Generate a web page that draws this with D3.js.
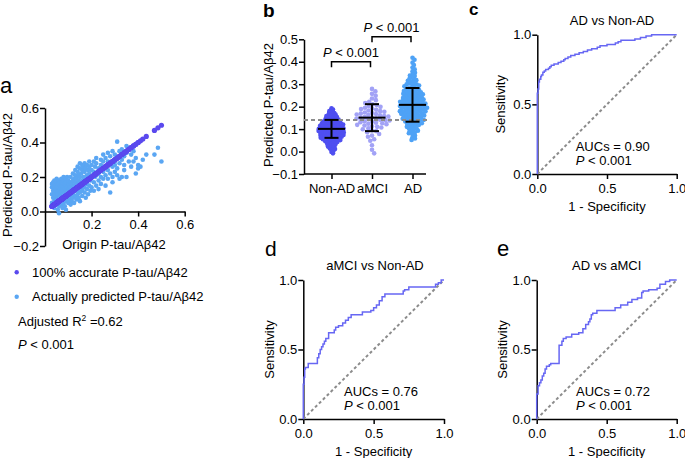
<!DOCTYPE html>
<html><head><meta charset="utf-8">
<script src="https://cdn.jsdelivr.net/npm/d3@7"></script>
<style>
body{margin:0;background:#fff;}
svg{display:block;font-family:"Liberation Sans",Arial,Helvetica,sans-serif;font-size:13px;}
</style></head><body>
<svg id="fig" width="685" height="458"></svg>
<script>
// ---------------- DATA ----------------
// panel a: [origin P-tau/Aβ42, predicted P-tau/Aβ42]
const aPairs = [
[0.03,0.05],[0.03,0.10],[0.03,0.14],[0.03,0.16],[0.035,0.08],[0.035,0.12],[0.035,0.17],[0.035,0.03],
[0.04,0.06],[0.04,0.09],[0.04,0.11],[0.04,0.13],[0.04,0.15],[0.04,0.18],[0.04,0.02],
[0.045,0.07],[0.045,0.10],[0.045,0.14],[0.045,0.16],[0.045,0.12],
[0.05,0.04],[0.05,0.08],[0.05,0.11],[0.05,0.13],[0.05,0.15],[0.05,0.17],[0.05,0.19],[0.05,0.06],
[0.055,0.09],[0.055,0.12],[0.055,0.14],[0.055,0.16],[0.055,0.01],[0.055,0.10],
[0.06,0.05],[0.06,0.07],[0.06,0.10],[0.06,0.12],[0.06,0.14],[0.06,0.16],[0.06,0.18],[0.06,-0.01],[0.06,0.03],
[0.065,0.08],[0.065,0.11],[0.065,0.13],[0.065,0.15],[0.065,0.17],[0.065,0.09],
[0.07,0.04],[0.07,0.06],[0.07,0.10],[0.07,0.12],[0.07,0.14],[0.07,0.16],[0.07,0.19],[0.07,0.11],
[0.075,0.08],[0.075,0.13],[0.075,0.15],[0.075,0.17],[0.075,0.02],[0.075,0.10],
[0.08,0.05],[0.08,0.09],[0.08,0.12],[0.08,0.14],[0.08,0.18],[0.08,0.20],[0.08,0.07],
[0.085,0.10],[0.085,0.13],[0.085,0.16],[0.085,0.03],[0.085,0.11],
[0.09,0.06],[0.09,0.09],[0.09,0.12],[0.09,0.15],[0.09,0.17],[0.09,0.19],[0.09,0.01],
[0.095,0.08],[0.095,0.14],[0.095,0.11],[0.095,0.20],
[0.10,0.05],[0.10,0.10],[0.10,0.13],[0.10,0.16],[0.10,0.18],
[0.105,0.07],[0.105,0.12],[0.105,0.15],[0.11,0.09],[0.11,0.14],[0.11,0.17],[0.11,0.04],[0.11,0.20],
[0.115,0.11],[0.115,0.16],[0.115,0.06],[0.12,0.08],[0.12,0.13],[0.12,0.18],[0.12,0.22],[0.12,0.10],
[0.125,0.15],[0.125,0.05],[0.125,0.19],[0.13,0.09],[0.13,0.12],[0.13,0.17],[0.13,0.21],[0.13,0.24],
[0.135,0.07],[0.135,0.14],[0.135,0.19],[0.14,0.10],[0.14,0.16],[0.14,0.23],[0.14,0.26],[0.14,0.12],
[0.145,0.08],[0.145,0.18],[0.145,0.21],[0.15,0.11],[0.15,0.14],[0.15,0.20],[0.15,0.25],[0.15,0.28],[0.15,0.06],
[0.155,0.16],[0.155,0.22],[0.155,0.13],[0.16,0.09],[0.16,0.18],[0.16,0.24],[0.16,0.27],[0.16,0.12],
[0.165,0.15],[0.165,0.20],[0.165,0.26],[0.17,0.11],[0.17,0.19],[0.17,0.23],[0.17,0.28],[0.17,0.14],
[0.175,0.17],[0.175,0.25],[0.175,0.08],[0.18,0.13],[0.18,0.21],[0.18,0.27],[0.18,0.16],
[0.185,0.19],[0.185,0.24],[0.185,0.10],[0.19,0.15],[0.19,0.22],[0.19,0.26],[0.19,0.29],
[0.195,0.18],[0.195,0.12],[0.20,0.14],[0.20,0.20],[0.20,0.24],[0.20,0.27],
[0.21,0.17],[0.21,0.23],[0.21,0.29],[0.21,0.12],[0.215,0.20],[0.215,0.26],
[0.22,0.15],[0.22,0.21],[0.22,0.28],[0.22,0.31],[0.23,0.18],[0.23,0.25],[0.23,0.13],[0.23,0.22],
[0.24,0.20],[0.24,0.27],[0.24,0.30],[0.24,0.16],[0.25,0.23],[0.25,0.29],[0.25,0.19],[0.25,0.33],
[0.26,0.21],[0.26,0.26],[0.26,0.31],[0.26,0.15],[0.27,0.24],[0.27,0.29],[0.27,0.34],[0.27,0.19],
[0.28,0.11],[0.28,0.22],[0.28,0.27],[0.28,0.32],[0.29,0.20],[0.29,0.26],[0.29,0.35],[0.29,0.17],
[0.30,0.23],[0.30,0.29],[0.30,0.33],[0.30,0.27],
[0.31,0.405],[0.31,0.25],[0.31,0.21],[0.31,0.31],[0.32,0.28],[0.32,0.35],[0.32,0.19],
[0.33,0.20],[0.33,0.30],[0.33,0.36],[0.34,0.27],[0.34,0.32],[0.34,0.24],
[0.35,0.20],[0.35,0.34],[0.35,0.38],[0.36,0.29],[0.36,0.37],[0.37,0.33],[0.37,0.26],
[0.38,0.29],[0.38,0.35],[0.39,0.22],[0.39,0.31],[0.40,0.25],[0.40,0.27],[0.41,0.26],[0.42,0.30],
[0.435,0.33],[0.47,0.33],[0.485,0.37],[0.50,0.29]
];
const aTicksX = [0.2, 0.4, 0.6];
const aTicksY = [-0.2, 0, 0.2, 0.4, 0.6];

// panel b
const bGroups = ["Non-AD", "aMCI", "AD"];
const bNonAD = [-0.008,-0.002,0.004,0.007,0.011,0.014,0.016,0.019,0.022,0.025,
0.026,0.028,0.031,0.033,0.034,0.036,0.038,0.040,0.041,0.043,0.044,0.045,
0.046,0.047,0.049,0.050,0.051,0.052,0.053,0.054,0.055,
0.056,0.057,0.058,0.059,0.060,0.061,0.062,0.062,0.063,0.064,0.065,
0.066,0.066,0.067,0.068,0.069,0.070,0.070,0.071,0.072,0.073,0.074,0.074,0.075,
0.076,0.076,0.077,0.078,0.079,0.079,0.080,0.081,0.082,0.082,0.083,0.084,0.085,0.085,
0.086,0.086,0.087,0.088,0.088,0.089,0.090,0.090,0.091,0.092,0.092,0.093,0.094,0.094,0.095,
0.096,0.096,0.097,0.098,0.098,0.099,0.100,0.100,0.101,0.102,0.102,0.103,0.104,0.104,0.105,
0.106,0.106,0.107,0.108,0.109,0.109,0.110,0.111,0.112,0.112,0.113,0.114,0.115,0.115,
0.116,0.117,0.118,0.118,0.119,0.120,0.121,0.122,0.122,0.123,0.124,0.125,0.125,
0.126,0.127,0.128,0.129,0.130,0.131,0.132,0.133,0.134,0.135,0.135,
0.136,0.137,0.139,0.140,0.141,0.142,0.143,0.144,0.145,
0.147,0.148,0.150,0.151,0.152,0.154,0.155,0.156,0.158,0.160,0.161,0.163,0.165,
0.167,0.170,0.172,0.174,0.177,0.180,0.183,0.187,0.193];
const bAMCI = [-0.008,0.008,0.028,0.048,0.055,0.066,0.071,0.078,0.086,0.091,0.094,0.099,
0.104,0.107,0.110,0.113,0.116,0.119,0.122,0.124,0.126,0.128,0.131,0.133,0.135,0.138,
0.140,0.142,0.144,0.146,0.148,0.150,0.152,0.154,0.156,0.158,0.161,0.163,0.165,0.167,
0.169,0.172,0.174,0.177,0.180,0.183,0.186,0.189,0.192,0.195,0.199,0.203,0.207,0.211,
0.216,0.222,0.229,0.236,0.248,0.257,0.268,0.279];
const bAD = [0.052,0.058,0.064,0.071,0.077,0.082,0.086,0.090,0.093,0.097,
0.101,0.104,0.107,0.110,0.112,0.115,0.118,0.120,0.122,0.124,0.126,0.128,0.130,0.132,0.134,0.136,0.138,
0.140,0.141,0.143,0.144,0.146,0.148,0.149,0.151,0.153,0.155,0.157,0.158,
0.160,0.161,0.162,0.164,0.165,0.167,0.168,0.170,0.171,0.173,0.175,0.176,0.178,0.179,
0.180,0.181,0.183,0.184,0.185,0.187,0.188,0.190,0.191,0.192,0.194,0.195,0.197,0.198,0.199,
0.200,0.201,0.203,0.204,0.205,0.207,0.208,0.210,0.211,0.212,0.214,0.215,0.217,0.218,0.219,
0.220,0.222,0.223,0.225,0.226,0.228,0.229,0.231,0.232,0.234,0.236,0.237,0.239,0.240,
0.242,0.244,0.246,0.247,0.249,0.251,0.253,0.255,0.257,0.258,0.259,0.260,
0.262,0.264,0.266,0.268,0.270,0.272,0.274,0.276,0.278,0.279,
0.282,0.285,0.288,0.291,0.294,0.297,0.299,0.300,0.303,0.307,0.311,0.315,0.318,0.320,
0.325,0.331,0.336,0.339,0.344,0.351,0.357,0.366,0.374,0.385,0.396,0.409,0.418];
const bMean = [0.101, 0.151, 0.208];
const bSD = [0.040, 0.060, 0.075];
const bCutoff = 0.14;
const bTicksY = [-0.1, 0, 0.1, 0.2, 0.3, 0.4, 0.5];

// ROC curves: [1 - specificity, sensitivity]
const rocC = [[0,0],[0,0.55],[0.005,0.58],[0.01,0.61],[0.01,0.64],[0.015,0.66],[0.025,0.68],[0.03,0.70],
[0.04,0.71],[0.05,0.73],[0.06,0.74],[0.08,0.75],[0.09,0.76],[0.10,0.77],[0.12,0.78],[0.15,0.79],[0.17,0.80],
[0.19,0.81],[0.20,0.82],[0.22,0.83],[0.24,0.84],[0.27,0.85],[0.30,0.86],[0.33,0.87],[0.36,0.88],[0.39,0.89],
[0.43,0.90],[0.45,0.91],[0.50,0.92],[0.56,0.93],[0.58,0.94],[0.60,0.95],[0.70,0.96],[0.74,0.97],[0.78,0.98],
[0.82,0.99],[0.87,1],[1,1]];
const rocD = [[0,0],[0,0.20],[0.005,0.25],[0.01,0.30],[0.015,0.36],[0.035,0.37],[0.05,0.40],[0.10,0.40],
[0.11,0.44],[0.12,0.47],[0.13,0.50],[0.14,0.52],[0.15,0.54],[0.16,0.56],[0.18,0.58],[0.19,0.62],[0.22,0.62],
[0.23,0.64],[0.25,0.66],[0.28,0.67],[0.30,0.69],[0.32,0.71],[0.34,0.73],[0.35,0.75],[0.42,0.75],[0.43,0.77],
[0.48,0.77],[0.50,0.78],[0.52,0.80],[0.54,0.82],[0.56,0.85],[0.58,0.88],[0.60,0.90],[0.71,0.90],[0.72,0.92],
[0.75,0.93],[0.78,0.95],[0.94,0.95],[0.96,0.97],[0.98,0.98],[1,1]];
const rocE = [[0,0],[0,0.15],[0.01,0.18],[0.01,0.22],[0.02,0.24],[0.03,0.26],[0.04,0.28],[0.05,0.31],
[0.06,0.33],[0.07,0.36],[0.09,0.38],[0.10,0.39],[0.12,0.40],[0.16,0.40],[0.16,0.52],[0.18,0.53],[0.19,0.56],
[0.21,0.58],[0.25,0.59],[0.30,0.61],[0.33,0.62],[0.35,0.65],[0.37,0.68],[0.38,0.70],[0.39,0.72],[0.40,0.75],
[0.43,0.76],[0.47,0.78],[0.56,0.78],[0.60,0.80],[0.65,0.82],[0.68,0.84],[0.72,0.86],[0.75,0.87],[0.76,0.91],
[0.80,0.92],[0.86,0.93],[0.88,0.94],[0.92,0.97],[0.95,0.99],[0.96,1],[1,1]];
const rocTicks = [0, 0.5, 1];
const rocTitles = ["AD vs Non-AD", "aMCI vs Non-AD", "AD vs aMCI"];
const rocAUC = ["0.90", "0.76", "0.72"];

// ---------------- DRAWING ----------------
const svg = d3.select("#fig");
const fmt1 = d3.format(".1f");
const COL = {purple:"#5a49ee", lightblue:"#5aa6f3", nonad:"#4f4ff0", amci:"#a2a2f6", ad:"#4ea2f6", roc:"#6767f3", grey:"#8c8c8c"};

function styleAxis(g){
  g.selectAll("path.domain,line").attr("stroke","#000").attr("stroke-width",1.5);
  g.selectAll("text").attr("fill","#000").attr("font-size","13px").attr("font-family",'"Liberation Sans",Arial,sans-serif');
}
function label(x,y,txt,size,weight){
  svg.append("text").attr("x",x).attr("y",y).attr("font-size",size+"px").attr("font-weight",weight||"normal").text(txt);
}
function centered(x,y,txt,rot){
  const t = svg.append("text").attr("text-anchor","middle").attr("dy","0.35em").text(txt);
  if(rot) t.attr("transform",`translate(${x},${y}) rotate(-90)`); else t.attr("x",x).attr("y",y);
  return t;
}
function pText(x,y,anchor){
  const t = svg.append("text").attr("x",x).attr("y",y).attr("dy","0.35em").attr("text-anchor",anchor||"start");
  t.append("tspan").attr("font-style","italic").text("P");
  t.append("tspan").text(" < 0.001");
  return t;
}

// ===== Panel a =====
{
  const x = d3.scaleLinear([0,0.6],[45,184.7]);
  const y = d3.scaleLinear([-0.2,0.6],[246,108]);
  svg.append("g").attr("transform",`translate(${x(0)},0)`)
    .call(d3.axisLeft(y).tickValues(aTicksY).tickFormat(fmt1).tickSize(5).tickPadding(1).tickSizeOuter(0)).call(styleAxis);
  svg.append("g").attr("transform",`translate(0,${y(0)})`)
    .call(d3.axisBottom(x).tickValues(aTicksX).tickFormat(fmt1).tickSize(5).tickPadding(3).tickSizeOuter(0)).call(styleAxis);
  svg.append("g").selectAll("circle").data(aPairs).join("circle")
    .attr("cx",d=>x(d[0])).attr("cy",d=>y(d[1])).attr("r",2.3).attr("fill",COL.lightblue);
  svg.append("g").selectAll("circle").data(aPairs).join("circle")
    .attr("cx",d=>x(d[0])).attr("cy",d=>y(d[0])).attr("r",2.6).attr("fill",COL.purple);
  centered(7,175,"Predicted P-tau/Aβ42",true);
  centered(114,244,"Origin P-tau/Aβ42");
  label(0,93,"a",22);
  // legend
  svg.append("circle").attr("cx",16.7).attr("cy",272.3).attr("r",2.2).attr("fill",COL.purple);
  svg.append("circle").attr("cx",16.7).attr("cy",296.7).attr("r",2.2).attr("fill",COL.lightblue);
  svg.append("text").attr("x",32).attr("y",272.3).attr("dy","0.35em").text("100% accurate P-tau/Aβ42");
  svg.append("text").attr("x",32).attr("y",296.7).attr("dy","0.35em").text("Actually predicted P-tau/Aβ42");
  const r2 = svg.append("text").attr("x",18).attr("y",321).attr("dy","0.35em");
  r2.append("tspan").text("Adjusted R");
  r2.append("tspan").attr("font-size","8.5px").attr("dy","-5").text("2");
  r2.append("tspan").attr("dy","5").text(" =0.62");
  pText(18,344.3);
}

// ===== Panel b =====
{
  const y = d3.scaleLinear([-0.1,0.5],[174,39.3]);
  const x = d3.scalePoint(bGroups,[331.5,412.5]);
  svg.append("g").attr("transform","translate(304,0)")
    .call(d3.axisLeft(y).tickValues(bTicksY).tickFormat(fmt1).tickSize(5).tickPadding(1).tickSizeOuter(0)).call(styleAxis);
  const gx = svg.append("g").attr("transform",`translate(0,${y(-0.1)})`)
    .call(d3.axisBottom(x).tickSize(5).tickPadding(4.5).tickSizeOuter(0)).call(styleAxis);
  gx.select("path.domain").remove();
  svg.append("line").attr("x1",304).attr("x2",426).attr("y1",y(-0.1)).attr("y2",y(-0.1)).attr("stroke","#000").attr("stroke-width",1.5);

  // swarm layout
  function swarm(values, cx, dmin){
    const pts = values.map(v=>({v, py:y(v)})).sort((a,b)=>a.py-b.py);
    const placed = [];
    for(const p of pts){
      const near = placed.filter(q=>Math.abs(q.py-p.py)<dmin);
      const cands = [0];
      for(const q of near){ const dx = Math.sqrt(dmin*dmin-(q.py-p.py)**2); cands.push(q.dx+dx, q.dx-dx); }
      cands.sort((a,b)=>Math.abs(a)-Math.abs(b));
      let best = 0;
      for(const c of cands){
        if(near.every(q=>(q.dx-c)**2+(q.py-p.py)**2 >= dmin*dmin-1e-6)){ best=c; break; }
      }
      p.dx = best; placed.push(p);
    }
    return placed.map(p=>({cx:cx+p.dx, cy:p.py}));
  }
  const groups = [[bNonAD,COL.nonad,2.0],[bAMCI,COL.amci,4.2],[bAD,COL.ad,2.85]];
  groups.forEach(([vals,col,dmin],i)=>{
    const pts = swarm(vals, x(bGroups[i]), dmin);
    svg.append("g").selectAll("circle").data(pts).join("circle")
      .attr("cx",d=>d.cx).attr("cy",d=>d.cy).attr("r",2.3).attr("fill",col);
  });
  // cutoff line
  svg.append("line").attr("x1",304).attr("x2",430).attr("y1",y(bCutoff)).attr("y2",y(bCutoff))
    .attr("stroke",COL.grey).attr("stroke-width",2).attr("stroke-dasharray","4,3");
  // mean ± SD
  bGroups.forEach((g,i)=>{
    const cx = x(g), m = bMean[i], s = bSD[i];
    const e = svg.append("g").attr("stroke","#000").attr("stroke-width",2);
    e.append("line").attr("x1",cx-13.5).attr("x2",cx+13.5).attr("y1",y(m)).attr("y2",y(m));
    e.append("line").attr("x1",cx).attr("x2",cx).attr("y1",y(m-s)).attr("y2",y(m+s));
    e.append("line").attr("x1",cx-7).attr("x2",cx+7).attr("y1",y(m-s)).attr("y2",y(m-s));
    e.append("line").attr("x1",cx-7).attr("x2",cx+7).attr("y1",y(m+s)).attr("y2",y(m+s));
  });
  // significance brackets
  [[0,1,0.40],[1,2,0.511]].forEach(([a,b,lv])=>{
    const x1 = x(bGroups[a]), x2 = x(bGroups[b]) - 1.5, yy = y(lv);
    svg.append("path").attr("d",`M${x1},${yy+5.5}V${yy}H${x2}V${yy+5.5}`)
      .attr("fill","none").attr("stroke","#000").attr("stroke-width",1.5);
    pText((x1+x2)/2, yy-9.5, "middle");
  });
  centered(268,105,"Predicted P-tau/Aβ42",true);
  label(263,17,"b",19,"bold");
}

// ===== ROC panels =====
function rocPanel(data, xr, yr, title, titleX, auc, aucX, ylabX, letter, letterPos, lsize, lweight){
  const x = d3.scaleLinear([0,1],xr);
  const y = d3.scaleLinear([0,1],yr);
  svg.append("g").attr("transform",`translate(${xr[0]},0)`)
    .call(d3.axisLeft(y).tickValues(rocTicks).tickFormat(fmt1).tickSize(5).tickPadding(1).tickSizeOuter(0)).call(styleAxis);
  svg.append("g").attr("transform",`translate(0,${yr[0]})`)
    .call(d3.axisBottom(x).tickValues(rocTicks).tickFormat(fmt1).tickSize(5).tickPadding(4.5).tickSizeOuter(0)).call(styleAxis);
  svg.append("line").attr("x1",x(0)).attr("y1",y(0)).attr("x2",x(1)).attr("y2",y(1))
    .attr("stroke",COL.grey).attr("stroke-width",2).attr("stroke-dasharray","3,2.5");
  svg.append("path").datum(data)
    .attr("d",d3.line().x(d=>x(d[0])).y(d=>y(d[1])).curve(d3.curveStepBefore))
    .attr("fill","none").attr("stroke",COL.roc).attr("stroke-width",1.5);
  centered(titleX, yr[1]-14.5, title);
  centered(ylabX, (yr[0]+yr[1])/2, "Sensitivity", true);
  centered((xr[0]+xr[1])/2, yr[0]+32.5, "1 - Specificity");
  svg.append("text").attr("x",aucX).attr("y",yr[0]-28).attr("dy","0.35em").text("AUCs = "+auc);
  pText(aucX, yr[0]-13.5);
  label(letterPos[0],letterPos[1],letter,lsize,lweight);
}
rocPanel(rocC,[537.3,676.7],[174,34.7],rocTitles[0],612,rocAUC[0],575.7,500.5,"c",[469,15],17,"bold");
rocPanel(rocD,[303.3,444],[419,280],rocTitles[1],375,rocAUC[1],344,269,"d",[265,256],21);
rocPanel(rocE,[536.7,676.7],[419,280],rocTitles[2],606.7,rocAUC[2],576,502,"e",[497,256],22);
</script>
</body></html>
